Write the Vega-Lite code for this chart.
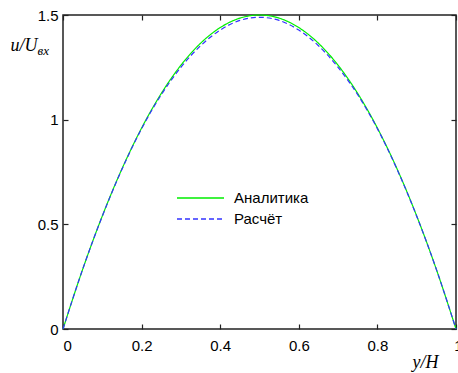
{
  "$schema": "https://vega.github.io/schema/vega-lite/v6.json",
  "width": 393,
  "height": 314,
  "autosize": {"type": "none"},
  "padding": {"left": 63, "top": 15, "right": 2, "bottom": 44},
  "background": "white",
  "config": {
    "view": {"stroke": "#222", "strokeWidth": 1.5},
    "axis": {
      "domain": false,
      "grid": false,
      "tickColor": "#222",
      "tickWidth": 1.2,
      "tickSize": -5,
      "labelFont": "Liberation Sans",
      "labelFontSize": 15,
      "labelColor": "#000",
      "titleFont": "Liberation Serif",
      "titleFontStyle": "italic",
      "titleFontWeight": "normal",
      "titleFontSize": 18,
      "titleColor": "#000"
    },
    "legend": {
      "labelFont": "Liberation Sans",
      "labelFontSize": 15,
      "labelColor": "#000"
    }
  },
  "data": {
    "values": [
      {"y": 0.0, "u": 0.0, "series": "Аналитика"},
      {"y": 0.05, "u": 0.285, "series": "Аналитика"},
      {"y": 0.1, "u": 0.54, "series": "Аналитика"},
      {"y": 0.15, "u": 0.765, "series": "Аналитика"},
      {"y": 0.2, "u": 0.96, "series": "Аналитика"},
      {"y": 0.25, "u": 1.125, "series": "Аналитика"},
      {"y": 0.3, "u": 1.26, "series": "Аналитика"},
      {"y": 0.35, "u": 1.365, "series": "Аналитика"},
      {"y": 0.4, "u": 1.44, "series": "Аналитика"},
      {"y": 0.45, "u": 1.485, "series": "Аналитика"},
      {"y": 0.5, "u": 1.5, "series": "Аналитика"},
      {"y": 0.55, "u": 1.485, "series": "Аналитика"},
      {"y": 0.6, "u": 1.44, "series": "Аналитика"},
      {"y": 0.65, "u": 1.365, "series": "Аналитика"},
      {"y": 0.7, "u": 1.26, "series": "Аналитика"},
      {"y": 0.75, "u": 1.125, "series": "Аналитика"},
      {"y": 0.8, "u": 0.96, "series": "Аналитика"},
      {"y": 0.85, "u": 0.765, "series": "Аналитика"},
      {"y": 0.9, "u": 0.54, "series": "Аналитика"},
      {"y": 0.95, "u": 0.285, "series": "Аналитика"},
      {"y": 1.0, "u": 0.0, "series": "Аналитика"},
      {"y": 0.0, "u": 0.0, "series": "Расчёт"},
      {"y": 0.05, "u": 0.285, "series": "Расчёт"},
      {"y": 0.1, "u": 0.539, "series": "Расчёт"},
      {"y": 0.15, "u": 0.763, "series": "Расчёт"},
      {"y": 0.2, "u": 0.957, "series": "Расчёт"},
      {"y": 0.25, "u": 1.119, "series": "Расчёт"},
      {"y": 0.3, "u": 1.25, "series": "Расчёт"},
      {"y": 0.35, "u": 1.353, "series": "Расчёт"},
      {"y": 0.4, "u": 1.428, "series": "Расчёт"},
      {"y": 0.45, "u": 1.474, "series": "Расчёт"},
      {"y": 0.5, "u": 1.489, "series": "Расчёт"},
      {"y": 0.55, "u": 1.474, "series": "Расчёт"},
      {"y": 0.6, "u": 1.428, "series": "Расчёт"},
      {"y": 0.65, "u": 1.353, "series": "Расчёт"},
      {"y": 0.7, "u": 1.25, "series": "Расчёт"},
      {"y": 0.75, "u": 1.119, "series": "Расчёт"},
      {"y": 0.8, "u": 0.957, "series": "Расчёт"},
      {"y": 0.85, "u": 0.763, "series": "Расчёт"},
      {"y": 0.9, "u": 0.539, "series": "Расчёт"},
      {"y": 0.95, "u": 0.285, "series": "Расчёт"},
      {"y": 1.0, "u": 0.0, "series": "Расчёт"}
    ]
  },
  "layer": [
    {
      "mark": {"type": "line", "interpolate": "monotone", "strokeWidth": 1.2},
      "encoding": {
        "x": {
          "field": "y",
          "type": "quantitative",
          "scale": {"domain": [0, 1], "nice": false, "zero": false},
          "axis": {
            "orient": "bottom",
            "values": [0, 0.2, 0.4, 0.6, 0.8, 1],
            "format": "~g",
            "labelPadding": 14,
            "labelOffset": {"condition": {"test": "datum.value === 1", "value": 6}, "value": 0},
            "title": "y/H",
            "titleAnchor": "start",
            "titleAlign": "center",
            "titleBaseline": "alphabetic",
            "titleX": 362,
            "titleY": 38
          }
        },
        "y": {
          "field": "u",
          "type": "quantitative",
          "scale": {"domain": [0, 1.5], "nice": false},
          "axis": {
            "orient": "left",
            "values": [0, 0.5, 1, 1.5],
            "format": "~g",
            "labelPadding": 10,
            "title": "u/U",
            "titleAngle": 0,
            "titleAlign": "right",
            "titleBaseline": "alphabetic",
            "titleX": -26,
            "titleY": 35
          }
        },
        "color": {
          "field": "series",
          "type": "nominal",
          "scale": {"domain": ["Аналитика", "Расчёт"], "range": ["#00ee00", "#3333ff"]},
          "legend": {
            "title": null,
            "orient": "none",
            "legendX": 113,
            "legendY": 175,
            "symbolType": "stroke",
            "symbolSize": 2209,
            "symbolStrokeWidth": 1.5,
            "labelOffset": 9,
            "clipHeight": 16,
            "rowPadding": 5
          }
        },
        "strokeDash": {
          "field": "series",
          "type": "nominal",
          "scale": {"domain": ["Аналитика", "Расчёт"], "range": [[1, 0], [5, 3]]},
          "legend": {
            "title": null,
            "orient": "none",
            "legendX": 113,
            "legendY": 175,
            "symbolType": "stroke",
            "symbolSize": 2209,
            "symbolStrokeWidth": 1.5,
            "labelOffset": 9,
            "clipHeight": 16,
            "rowPadding": 5
          }
        }
      }
    },
    {
      "mark": {"type": "line", "opacity": 0},
      "encoding": {
        "x": {
          "field": "y",
          "type": "quantitative",
          "axis": {"orient": "top", "values": [0, 0.2, 0.4, 0.6, 0.8, 1], "labels": false, "title": null}
        },
        "y": {
          "field": "u",
          "type": "quantitative",
          "axis": {
            "orient": "right",
            "values": [0, 0.5, 1, 1.5],
            "labels": false,
            "title": "вх",
            "titleFontSize": 13,
            "titleAngle": 0,
            "titleAlign": "left",
            "titleBaseline": "alphabetic",
            "titleX": -419,
            "titleY": 39
          }
        },
        "detail": {"field": "series"}
      }
    }
  ],
  "resolve": {"axis": {"x": "independent", "y": "independent"}}
}
